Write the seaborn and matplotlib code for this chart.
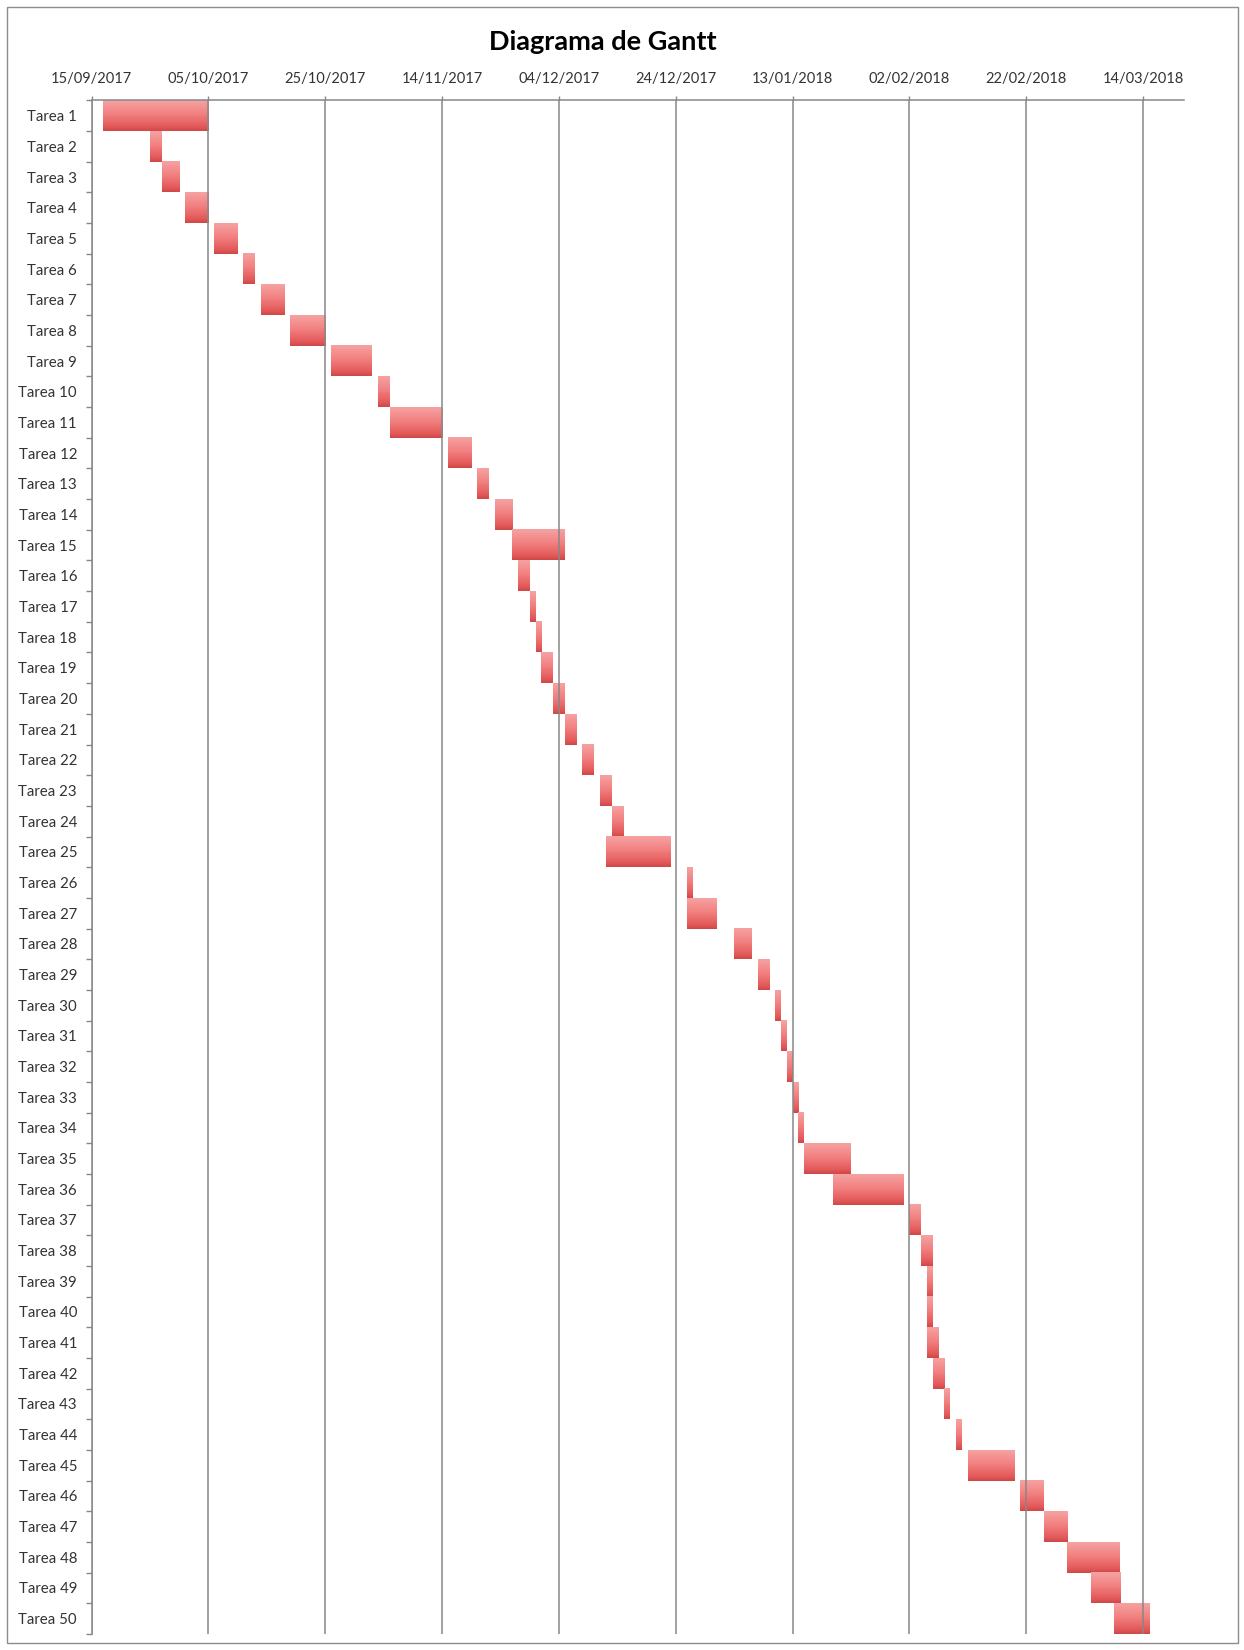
import numpy as np
import pandas as pd
import matplotlib
matplotlib.use('Agg')
import matplotlib.pyplot as plt
import matplotlib.dates as mdates
from matplotlib.colors import LinearSegmentedColormap
from matplotlib.patches import Rectangle
import seaborn as sns

# Datos del diagrama
tasks = [f'Tarea {i}' for i in range(1, 51)]
start_dates = [
    '17/09/2017', '25/09/2017', '27/09/2017', '01/10/2017', '06/10/2017',
    '11/10/2017', '14/10/2017', '19/10/2017', '26/10/2017', '03/11/2017',
    '05/11/2017', '15/11/2017', '20/11/2017', '23/11/2017', '26/11/2017',
    '27/11/2017', '29/11/2017', '30/11/2017', '01/12/2017', '03/12/2017',
    '05/12/2017', '08/12/2017', '11/12/2017', '13/12/2017', '12/12/2017',
    '26/12/2017', '26/12/2017', '03/01/2018', '07/01/2018', '10/01/2018',
    '11/01/2018', '12/01/2018', '13/01/2018', '14/01/2018', '15/01/2018',
    '20/01/2018', '02/02/2018', '04/02/2018', '05/02/2018', '05/02/2018',
    '05/02/2018', '06/02/2018', '08/02/2018', '10/02/2018', '12/02/2018',
    '21/02/2018', '25/02/2018', '01/03/2018', '05/03/2018', '09/03/2018',
]
durations = [
    18, 2, 3, 4, 4, 2, 4, 6, 7, 2,
    9, 4, 2, 3, 9, 2, 1, 1, 2, 2,
    2, 2, 2, 2, 11, 1, 5, 3, 2, 1,
    1, 1, 1, 1, 8, 12, 2, 2, 1, 1,
    2, 2, 1, 1, 8, 4, 4, 9, 5, 6,
]
tick_dates = ['15/09/2017', '05/10/2017', '25/10/2017', '14/11/2017', '04/12/2017',
              '24/12/2017', '13/01/2018', '02/02/2018', '22/02/2018', '14/03/2018']

sns.set_theme(style='white')
plt.rcParams['font.family'] = ['Lato', 'DejaVu Sans']

data = pd.DataFrame({
    'tarea': tasks,
    'inicio': pd.to_datetime(start_dates, dayfirst=True),
    'duracion': durations,
})
data['inicio_num'] = mdates.date2num(data['inicio'])
ticks_num = mdates.date2num(pd.to_datetime(tick_dates, dayfirst=True))

W, H = 1244, 1650
fig = plt.figure(figsize=(W / 100, H / 100), dpi=100)
ax = fig.add_axes([91.6 / W, 16 / H, (1184 - 91.6) / W, (1634 - 100.4) / H])

sns.barplot(data=data, x='duracion', y='tarea', left=data['inicio_num'].values,
            orient='y', width=1.0, color='#e85c5c', errorbar=None, linewidth=0, ax=ax)

# degradado tipo Excel sobre cada barra
cmap = LinearSegmentedColormap.from_list(
    'rojo', [(0, '#f6a2a2'), (0.45, '#f28080'), (0.85, '#e45a5a'), (1, '#cf4747')])
grad = np.linspace(0, 1, 64).reshape(-1, 1)
for bar in list(ax.patches):
    x0, y0 = bar.get_x(), bar.get_y()
    w, h = bar.get_width(), bar.get_height()
    ax.imshow(grad, cmap=cmap, extent=(x0, x0 + w, y0 + h, y0), aspect='auto',
              interpolation='bilinear', zorder=2)

ax.set_xlim(ticks_num[0], ticks_num[0] + 187)
ax.set_ylim(len(tasks) - 0.5, -0.5)

ax.xaxis.tick_top()
ax.set_xticks(ticks_num)
ax.set_xticklabels(tick_dates)
ax.set_yticks(np.arange(-0.5, len(tasks), 1), minor=True)
ax.set_xlabel('')
ax.set_ylabel('')

grey = '#878787'
ax.grid(axis='x', color=grey, linewidth=1.1, zorder=3)
ax.set_axisbelow(False)
for side in ['right', 'bottom']:
    ax.spines[side].set_visible(False)
for side in ['top', 'left']:
    ax.spines[side].set_color(grey)
    ax.spines[side].set_linewidth(1.1)

ax.tick_params(axis='x', which='major', top=True, bottom=False, length=3, width=1,
               color=grey, pad=7.5, labelsize=10.5, labelcolor='#333333')
ax.tick_params(axis='y', which='major', left=False, length=0, pad=10.5,
               labelsize=10.8, labelcolor='#333333')
ax.tick_params(axis='y', which='minor', left=True, length=4, width=1, color=grey)

fig.text(603 / W, 1 - 42 / H, 'Diagrama de Gantt', ha='center', va='center',
         fontsize=19.5, fontweight='bold', color='black')

# borde del área del gráfico
fig.add_artist(Rectangle((7 / W, 7 / H), (1238 - 7) / W, (1643 - 7) / H,
                         transform=fig.transFigure, fill=False,
                         edgecolor='#8c8c8c', linewidth=1))

fig.savefig('out.png', dpi=100)
